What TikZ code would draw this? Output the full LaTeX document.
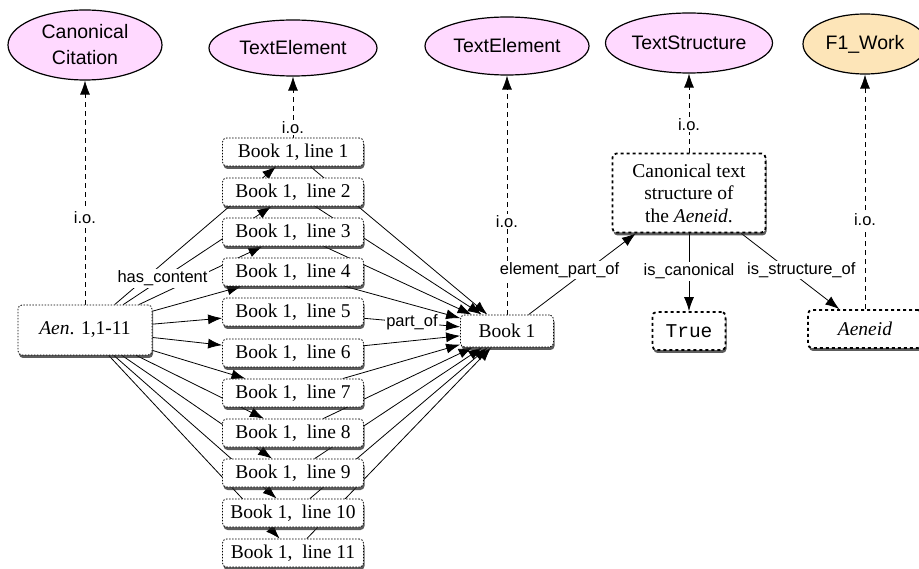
\documentclass[tikz,border=0pt]{standalone}
\usepackage{fontspec}
\setmainfont{Liberation Serif}
\setsansfont{Liberation Sans}
\setmonofont{Liberation Mono}
\usetikzlibrary{shapes.geometric,arrows.meta,shadows,backgrounds}

\definecolor{classpink}{RGB}{255,217,255}
\definecolor{workbeige}{RGB}{253,229,184}

\tikzset{
  classnode/.style={ellipse, draw, line width=1.2pt, fill=classpink,
    inner sep=0pt, align=center,
    font=\sffamily\fontsize{19.5}{26}\selectfont},
  linebox/.style={draw, rounded corners=4pt, fill=white, line width=0.8pt,
    dash pattern=on 1.5pt off 1.5pt, minimum width=141pt,
    minimum height=28pt, inner sep=0pt, align=center,
    font=\fontsize{19.5}{22.5}\selectfont,
    drop shadow={opacity=0.75, fill=black!85, shadow xshift=1pt, shadow yshift=-3pt}},
  litbox/.style={linebox, line width=1.8pt, dash pattern=on 3pt off 3pt},
  rel/.style={line width=0.8pt, -{Latex[length=14pt,width=10pt]}},
  iolink/.style={rel, dash pattern=on 5pt off 4pt},
  lbl/.style={fill=white, inner sep=1.5pt,
    font=\sffamily\fontsize{16.5}{18}\selectfont}
}

\begin{document}
\begin{tikzpicture}[x=1pt,y=-1pt]
\useasboundingbox (0,0) rectangle (919,569);

% Klassen
\node[classnode, minimum width=154pt, minimum height=70pt]
(cancit) at (85,45)
{Canonical\\Citation};

\node[classnode, minimum width=168pt, minimum height=56pt]
(textel1) at (293,48)
{TextElement};

\node[classnode, minimum width=164pt, minimum height=58pt]
(textel2) at (507,46)
{TextElement};

\node[classnode, minimum width=167pt, minimum height=60pt]
(textstr) at (689,43)
{TextStructure};

\node[classnode, minimum width=124pt, minimum height=60pt, fill=workbeige]
(work) at (865,44)
{F1\_Work};

% Zitat und Verse
\node[linebox, minimum width=134pt, minimum height=50pt]
(aen) at (85,330)
{\textit{Aen}. 1,1-11};

\node[linebox] (l1) at (293,152) {Book 1, line 1};
\node[linebox] (l2) at (293,192) {Book 1,\ \ line 2};
\node[linebox] (l3) at (293,232) {Book 1,\ \ line 3};
\node[linebox] (l4) at (293,272) {Book 1,\ \ line 4};
\node[linebox] (l5) at (293,312) {Book 1,\ \ line 5};
\node[linebox] (l6) at (293,353) {Book 1,\ \ line 6};
\node[linebox] (l7) at (293,393) {Book 1,\ \ line 7};
\node[linebox] (l8) at (293,433) {Book 1,\ \ line 8};
\node[linebox] (l9) at (293,473) {Book 1,\ \ line 9};
\node[linebox] (l10) at (293,513) {Book 1,\ \ line 10};
\node[linebox] (l11) at (293,553) {Book 1,\ \ line 11};

\node[linebox, minimum width=93pt, minimum height=32pt]
(book) at (507,331)
{Book 1};

% Struktur
\node[litbox, minimum width=153pt, minimum height=79pt]
(struct) at (689,193)
{Canonical text\\structure of\\the \textit{Aeneid}.};

\node[litbox, minimum width=73pt, minimum height=38pt]
(true) at (689,331)
{\texttt{True}};

\node[litbox, minimum width=114pt, minimum height=38pt]
(aeneid) at (865,329)
{\textit{Aeneid}};

\begin{scope}[on background layer]
% i.o.
\draw[iolink] (aen) -- node[lbl, pos=0.39] (io1) {i.o.} (cancit);
\draw[iolink] (l1) -- node[lbl, pos=0.17] (io2) {i.o.} (textel1);
\draw[iolink] (book) -- node[lbl, pos=0.39] (io3) {i.o.} (textel2);
\draw[iolink] (struct) -- node[lbl, pos=0.36] (io4) {i.o.} (textstr);
\draw[iolink] (aeneid) -- node[lbl, pos=0.38] (io5) {i.o.} (work);

% has_content
\draw[rel] (aen) -- (l1);
\draw[rel] (aen) -- (l3);
\draw[rel] (aen) -- (l4);
\draw[rel] (aen) -- (l5);
\draw[rel] (aen) -- (l6);
\draw[rel] (aen) -- (l7);
\draw[rel] (aen) -- (l8);
\draw[rel] (aen) -- (l9);
\draw[rel] (aen) -- (l10);
\draw[rel] (aen) -- (l11);

% part_of
\draw[rel] (l1) -- (book);
\draw[rel] (l2) -- (book);
\draw[rel] (l3) -- (book);
\draw[rel] (l4) -- (book);
\draw[rel] (l6) -- (book);
\draw[rel] (l7) -- (book);
\draw[rel] (l8) -- (book);
\draw[rel] (l9) -- (book);
\draw[rel] (l10) -- (book);
\draw[rel] (l11) -- (book);

\draw[rel] (aen) -- node[lbl, pos=0.265] (hascont) {has\_content} (l2);
\draw[rel] (l5) -- node[lbl, pos=0.5] (partof) {part\_of} (book);

% Struktur
\draw[rel] (book) -- node[lbl, pos=0.55, xshift=-28pt] (elpart) {element\_part\_of} (struct);
\draw[rel] (struct) -- node[lbl, pos=0.49] (iscan) {is\_canonical} (true);
\draw[rel] (struct) -- node[lbl, pos=0.48, xshift=13pt] (isstr) {is\_structure\_of} (aeneid);
\end{scope}

\end{tikzpicture}
\end{document}
